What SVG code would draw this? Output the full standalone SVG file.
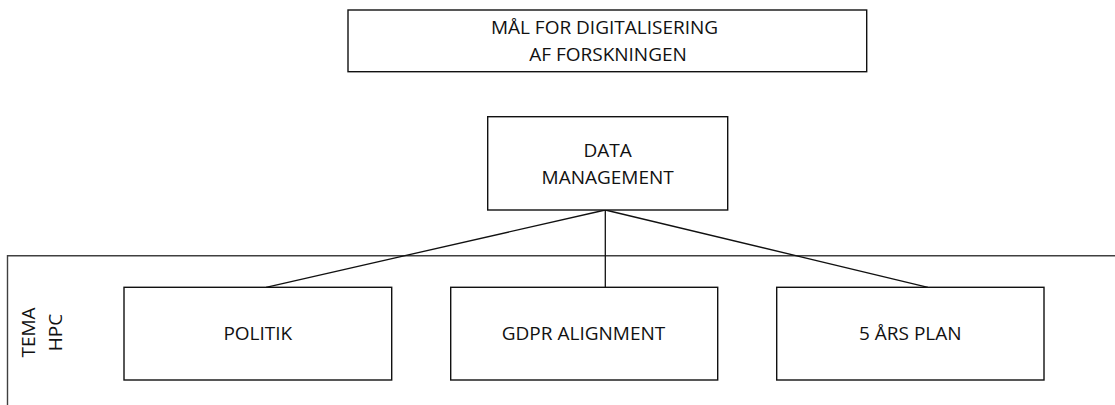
<svg xmlns="http://www.w3.org/2000/svg" width="1115" height="405" viewBox="0 0 1115 405">
<style>
.box{fill:#fff;stroke:#111;stroke-width:1.4}
.frame{fill:none;stroke:#404040;stroke-width:1.4}
.conn{fill:none;stroke:#111;stroke-width:1.3}
.t{font-family:"Open Sans","Liberation Sans",sans-serif;font-size:19px;fill:#111;text-anchor:middle}
</style>
<rect width="1115" height="405" fill="#fff"/>
<g id="frame-tema-hpc">
<path class="frame" d="M7.5,405 V255.7 H1115"/>
<text class="t" transform="translate(0,332.5) rotate(-90)"><tspan x="0" y="34.5">TEMA</tspan><tspan x="0" y="61.5">HPC</tspan></text>
</g>
<g id="connectors">
<line class="conn" x1="605.3" y1="210" x2="266" y2="287.3"/>
<line class="conn" x1="605.3" y1="210" x2="605.3" y2="287.3"/>
<line class="conn" x1="605.3" y1="210" x2="928" y2="287.3"/>
</g>
<g id="node-maal">
<rect class="box" x="348" y="10" width="518.7" height="61.7"/>
<text class="t"><tspan x="604.5" y="33.5">MÅL FOR DIGITALISERING</tspan><tspan x="608" y="60.5">AF FORSKNINGEN</tspan></text>
</g>
<g id="node-data">
<rect class="box" x="487.7" y="116.7" width="240" height="93.3"/>
<text class="t"><tspan x="607.7" y="156.5">DATA</tspan><tspan x="607.7" y="183.5">MANAGEMENT</tspan></text>
</g>
<g id="node-politik">
<rect class="box" x="124" y="287.3" width="267.7" height="92.7"/>
<text class="t" x="257.8" y="340">POLITIK</text>
</g>
<g id="node-gdpr">
<rect class="box" x="450.7" y="287.3" width="267" height="92.7"/>
<text class="t" x="583.5" y="340">GDPR ALIGNMENT</text>
</g>
<g id="node-5aars">
<rect class="box" x="776.7" y="287.3" width="267.3" height="92.7"/>
<text class="t" x="910.3" y="340">5 ÅRS PLAN</text>
</g>
</svg>
